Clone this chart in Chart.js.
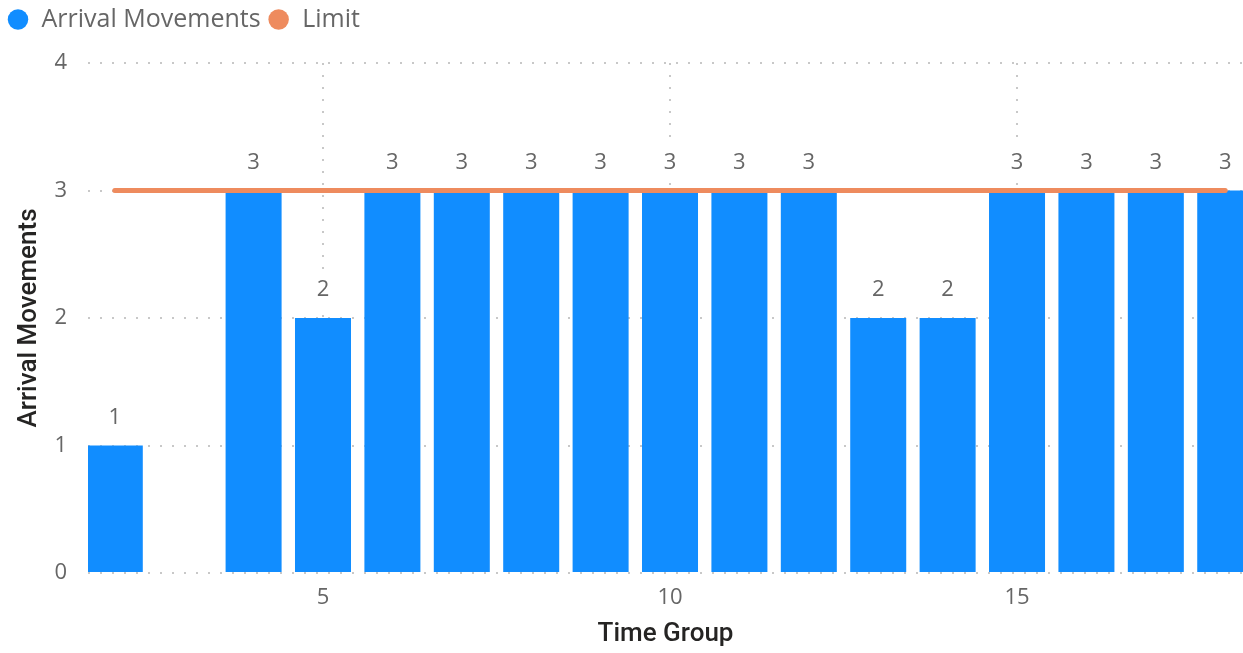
<!DOCTYPE html>
<html>
<head>
<meta charset="utf-8">
<script src="https://cdn.jsdelivr.net/npm/chart.js@4"></script>
<style>
    html, body { margin: 0; padding: 0; background: #fff; }
    #wrap { width: 1243px; height: 653px; position: relative; }
</style>
</head>
<body>
<div id="wrap"><canvas id="arrivalChart"></canvas></div>
<script>
// ===============================
// DATA
// ===============================

const timeGroups = [2, 3, 4, 5, 6, 7, 8, 9, 10, 11, 12, 13, 14, 15, 16, 17, 18];
const arrivals   = [1, null, 3, 2, 3, 3, 3, 3, 3, 3, 3, 2, 2, 3, 3, 3, 3];
const limits     = [3, 3, 3, 3, 3, 3, 3, 3, 3, 3, 3, 3, 3, 3, 3, 3, 3];
const xTicks     = [5, 10, 15];
const yTicks     = [0, 1, 2, 3, 4];

const BLUE = '#118DFF';
const ORANGE = '#EE8B5E';
const GRID = '#c8c8c8';
const TEXT = '#666666';

const tickFont = { family: "'Open Sans', 'Noto Sans', sans-serif", size: 22 };
const titleFont = { family: "Roboto, 'DejaVu Sans', sans-serif", size: 26, weight: '500' };

// ===============================
// PLUGINS
// ===============================

// value labels above each bar (white box hides the grid behind)
const barLabels = {
    id: 'barLabels',
    afterDatasetsDraw(chart) {
        const meta = chart.getDatasetMeta(0);
        const ctx = chart.ctx;
        ctx.save();
        ctx.font = "22px 'Open Sans', 'Noto Sans', sans-serif";
        ctx.textAlign = 'center';
        ctx.textBaseline = 'middle';
        meta.data.forEach((bar, i) => {
            const v = arrivals[i];
            if (v === null) return;
            const txt = String(v);
            const w = ctx.measureText(txt).width + 8;
            const y = bar.y - 28;
            ctx.fillStyle = '#ffffff';
            ctx.fillRect(bar.x - w / 2, y - 16, w, 31);
            ctx.fillStyle = TEXT;
            ctx.fillText(txt, bar.x, y);
        });
        ctx.restore();
    }
};

// extra room under the legend
const legendGap = {
    id: 'legendGap',
    beforeInit(chart) {
        const fit = chart.legend.fit;
        chart.legend.fit = function () {
            fit.bind(chart.legend)();
            this.height += 21;
        };
    }
};

// ===============================
// CHART
// ===============================

const arrivalCtx = document.getElementById('arrivalChart');

new Chart(arrivalCtx, {
    type: 'bar',
    data: {
        datasets: [{
            label: 'Arrival Movements',
            data: timeGroups.map((t, i) => ({ x: t, y: arrivals[i] })),
            backgroundColor: BLUE,
            borderColor: BLUE,
            borderWidth: 0,
            categoryPercentage: 1,
            barPercentage: 0.807,
            order: 2
        }, {
            type: 'line',
            label: 'Limit',
            data: timeGroups.map((t, i) => ({ x: t, y: limits[i] })),
            borderColor: ORANGE,
            backgroundColor: ORANGE,
            borderWidth: 5,
            borderCapStyle: 'round',
            pointRadius: 0,
            pointHoverRadius: 0,
            fill: false,
            order: 1
        }]
    },
    options: {
        responsive: true,
        maintainAspectRatio: false,
        animation: false,
        layout: { padding: 0 },

        plugins: {
            tooltip: { enabled: false },
            legend: {
                position: 'top',
                align: 'start',
                labels: {
                    usePointStyle: true,
                    boxWidth: 22,
                    boxHeight: 14.5,
                    padding: 7,
                    color: TEXT,
                    font: { family: "'Open Sans', 'Noto Sans', sans-serif", size: 25 },
                    generateLabels(chart) {
                        const items = Chart.defaults.plugins.legend.labels.generateLabels(chart);
                        items.forEach(it => {
                            it.lineWidth = 0;
                            it.pointStyle = 'circle';
                            it.fillStyle = it.datasetIndex === 0 ? BLUE : ORANGE;
                            it.strokeStyle = it.fillStyle;
                        });
                        return items.sort((a, b) => a.datasetIndex - b.datasetIndex);
                    }
                }
            }
        },

        scales: {
            x: {
                type: 'linear',
                min: 1.614,
                max: 18.256,
                offset: false,
                afterBuildTicks(scale) {
                    scale.ticks = xTicks.map(v => ({ value: v }));
                },
                afterFit(scale) { scale.height = 80; },
                ticks: { color: TEXT, font: tickFont, padding: 12 },
                grid: {
                    offset: false,
                    color: GRID,
                    lineWidth: 2,
                    drawTicks: false
                },
                border: { display: false, dash: [2, 10] },
                title: {
                    display: true,
                    text: 'Time Group',
                    color: '#252423',
                    font: titleFont,
                    padding: { top: 2, bottom: 3 }
                }
            },
            y: {
                min: 0,
                max: 4,
                afterBuildTicks(scale) {
                    scale.ticks = yTicks.map(v => ({ value: v }));
                },
                afterFit(scale) { scale.width = 88; },
                ticks: { color: TEXT, font: tickFont, padding: 21 },
                grid: {
                    color: GRID,
                    lineWidth: 2,
                    drawTicks: false
                },
                border: { display: false, dash: [2, 10] },
                title: {
                    display: true,
                    text: 'Arrival Movements',
                    color: '#252423',
                    font: titleFont,
                    padding: { top: 14, bottom: 0 }
                }
            }
        }
    },
    plugins: [barLabels, legendGap]
});
</script>
</body>
</html>
